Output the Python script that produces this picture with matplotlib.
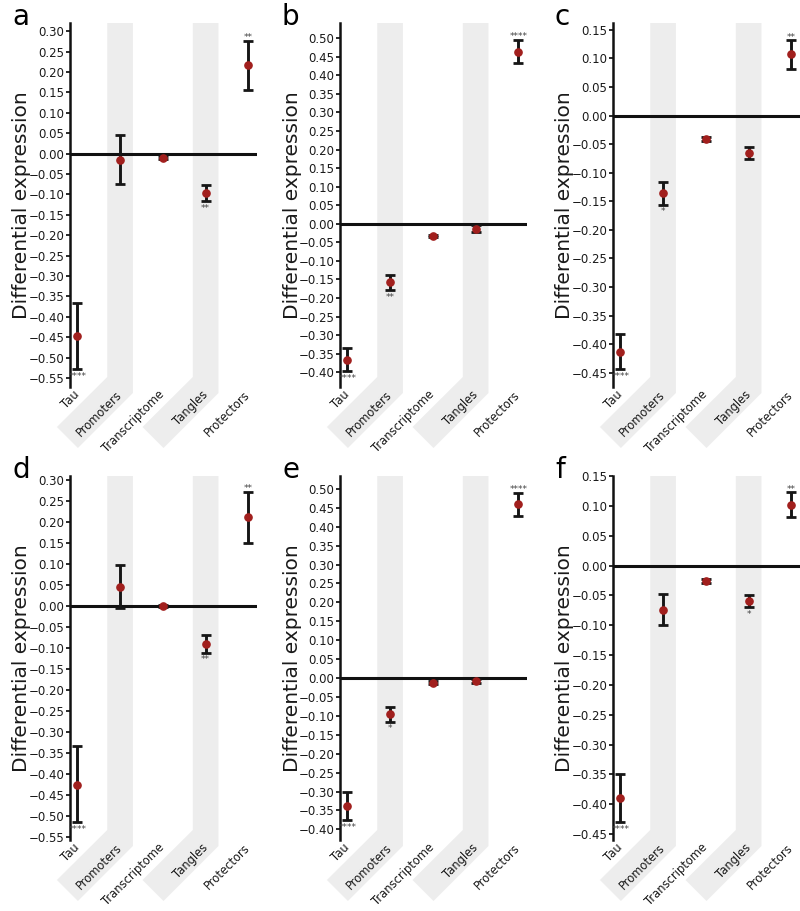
import matplotlib
matplotlib.use('Agg')
import matplotlib.pyplot as plt
import numpy as np
from matplotlib.patches import Polygon
from matplotlib.ticker import MultipleLocator, FuncFormatter

CATS = ['Tau', 'Promoters', 'Transcriptome', 'Tangles', 'Protectors']
PANELS = ['a', 'b', 'c', 'd', 'e', 'f']

# mean, lower end, upper end of each error bar, significance stars
MEAN_A = [-0.448, -0.015, -0.010, -0.096, 0.217]
LO_A = [-0.528, -0.075, -0.014, -0.117, 0.157]
HI_A = [-0.367, 0.045, -0.006, -0.076, 0.276]
SIG_A = ['****', '', '', '**', '**']

MEAN_B = [-0.366, -0.158, -0.034, -0.013, 0.464]
LO_B = [-0.398, -0.178, -0.037, -0.023, 0.434]
HI_B = [-0.334, -0.137, -0.031, -0.004, 0.495]
SIG_B = ['****', '**', '', '', '****']

MEAN_C = [-0.414, -0.135, -0.041, -0.066, 0.107]
LO_C = [-0.444, -0.156, -0.044, -0.076, 0.082]
HI_C = [-0.383, -0.116, -0.038, -0.055, 0.132]
SIG_C = ['****', '*', '', '', '**']

MEAN_D = [-0.426, 0.046, 0.000, -0.091, 0.212]
LO_D = [-0.516, -0.004, -0.002, -0.111, 0.151]
HI_D = [-0.335, 0.097, 0.002, -0.070, 0.273]
SIG_D = ['****', '', '', '**', '**']

MEAN_E = [-0.339, -0.095, -0.012, -0.008, 0.459]
LO_E = [-0.376, -0.115, -0.015, -0.012, 0.428]
HI_E = [-0.302, -0.076, -0.009, -0.003, 0.489]
SIG_E = ['****', '*', '', '', '****']

MEAN_F = [-0.390, -0.074, -0.026, -0.060, 0.102]
LO_F = [-0.430, -0.099, -0.029, -0.070, 0.081]
HI_F = [-0.350, -0.048, -0.023, -0.049, 0.123]
SIG_F = ['****', '', '', '*', '**']

YLIM = [(-0.572, 0.320), (-0.440, 0.541), (-0.475, 0.162),
        (-0.558, 0.310), (-0.428, 0.534), (-0.460, 0.150)]

DATA = [(MEAN_A, LO_A, HI_A, SIG_A), (MEAN_B, LO_B, HI_B, SIG_B),
        (MEAN_C, LO_C, HI_C, SIG_C), (MEAN_D, LO_D, HI_D, SIG_D),
        (MEAN_E, LO_E, HI_E, SIG_E), (MEAN_F, LO_F, HI_F, SIG_F)]

W, H = 800, 911
LEFTS = [70, 340, 613]
TOPS = [23, 476]
AX_W, AX_H = 187, 364
BAND_HW = 0.3
GREY = '#ededed'
RED = '#a11f1d'
TXT = '#1a1a1a'


def fmt(v, pos):
  if abs(v) < 1e-9:
    v = 0.0
  return f'{v:.2f}'.replace('-', '\u2212')


def band(fig, ax, xc):
  x0 = ax.transData.transform((xc - BAND_HW, 0))[0]
  x1 = ax.transData.transform((xc + BAND_HW, 0))[0]
  bot = ax.transAxes.transform((0, 0))[1]
  top = ax.transAxes.transform((0, 1))[1]
  pts = np.array([(x0, top), (x1, top), (x1, bot - 6), (x1 - 55, bot - 61),
                  (x1 - 76, bot - 40), (x0, bot + 10)])
  pts = fig.transFigure.inverted().transform(pts)
  ax.add_patch(Polygon(pts, closed=True, transform=fig.transFigure,
                       fc=GREY, ec='none', clip_on=False, zorder=0))


fig = plt.figure(figsize=(W / 100, H / 100), dpi=100)
for k, (mean, lo, hi, sig) in enumerate(DATA):
  r, c = divmod(k, 3)
  left, top = LEFTS[c], TOPS[r]
  ax = fig.add_axes([left / W, (H - top - AX_H) / H, AX_W / W, AX_H / H])
  ax.set_xlim(-0.17, 4.2)
  ax.set_ylim(*YLIM[k])
  x = np.arange(len(CATS))
  mean, lo, hi = np.array(mean), np.array(lo), np.array(hi)
  for xc in (1, 3):
    band(fig, ax, xc)
  ax.axhline(0, color='#111111', lw=2.2, zorder=1.5)
  ax.errorbar(x, mean, yerr=[mean - lo, hi - mean], fmt='o', color=RED,
              ms=5.2, mec=RED, ecolor='#161616', elinewidth=2.1,
              capsize=3.3, capthick=2.0, zorder=3)
  for xi, l, h, s in zip(x, lo, hi, sig):
    if not s:
      continue
    if xi == 4:
      ax.annotate(s, (xi, h), xytext=(0, -1), textcoords='offset points',
                  ha='center', va='bottom', fontsize=6.5, color='#444444')
    else:
      ax.annotate(s, (xi, l), xytext=(0, -2), textcoords='offset points',
                  ha='center', va='top', fontsize=6.5, color='#444444')
  for side in ('top', 'right', 'bottom'):
    ax.spines[side].set_visible(False)
  ax.spines['left'].set_linewidth(1.8)
  ax.spines['left'].set_color('#111111')
  ax.yaxis.set_major_locator(MultipleLocator(0.05))
  ax.yaxis.set_major_formatter(FuncFormatter(fmt))
  ax.tick_params(axis='y', length=3, width=1.3, pad=1, labelsize=8.5,
                 colors=TXT)
  ax.set_xticks(x)
  ax.set_xticklabels(CATS, rotation=45, ha='right', va='center',
                     rotation_mode='anchor', fontsize=8.3, color=TXT)
  ax.tick_params(axis='x', length=0, pad=4)
  ax.set_facecolor('white')
  cy = 1 - (top + AX_H / 2) / H
  fig.text((left - 48) / W, cy, 'Differential expression', rotation=90,
           ha='center', va='center', fontsize=14.5, color=TXT)
  fig.text((left - 58) / W, 1 - (top + 2) / H, PANELS[k], ha='left',
           va='baseline', fontsize=20, color='black')

fig.savefig('out.png', dpi=100)
